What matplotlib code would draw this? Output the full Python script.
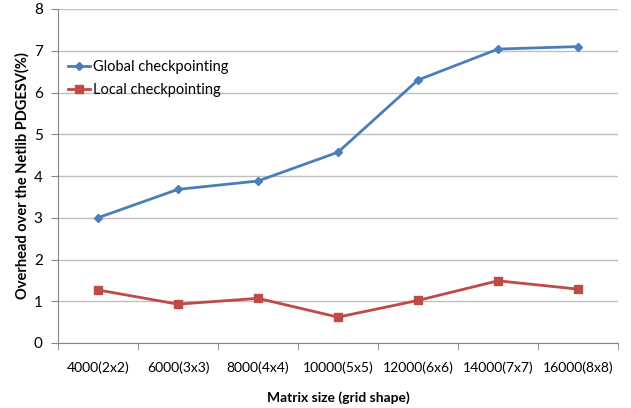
import matplotlib.pyplot as plt
import numpy as np

# chart data
categories = ['4000(2x2)', '6000(3x3)', '8000(4x4)', '10000(5x5)',
              '12000(6x6)', '14000(7x7)', '16000(8x8)']
global_ckpt = [3.00, 3.68, 3.88, 4.57, 6.30, 7.04, 7.10]
local_ckpt = [1.27, 0.93, 1.07, 0.62, 1.02, 1.49, 1.29]

plt.rcParams['font.family'] = ['Lato', 'DejaVu Sans']

fig = plt.figure(figsize=(6.31, 4.08), dpi=100)
ax = fig.add_axes([58 / 631, 65 / 408, 560 / 631, 334 / 408])

x = np.arange(len(categories))
ax.plot(x, global_ckpt, color='#4A7EBB', lw=2, marker='D', ms=4.5,
        label='Global checkpointing', zorder=3)
ax.plot(x, local_ckpt, color='#BE4B48', lw=2, marker='s', ms=6,
        label='Local checkpointing', zorder=3)

ax.set_xlim(-0.5, len(categories) - 0.5)
ax.set_ylim(0, 8)
ax.set_yticks(range(0, 9))
ax.yaxis.grid(True, color='#BFBFBF', lw=1)
ax.set_axisbelow(True)

ax.set_xticks(x)
ax.set_xticklabels(categories, fontsize=10)
ax.set_xticks(np.arange(-0.5, len(categories)), minor=True)
ax.tick_params(axis='x', which='major', length=0, pad=13)
ax.tick_params(axis='x', which='minor', length=5, color='#868686')
ax.tick_params(axis='y', length=5, color='#868686', labelsize=11, pad=6)

for side in ['top', 'right']:
    ax.spines[side].set_visible(False)
for side in ['left', 'bottom']:
    ax.spines[side].set_color('#868686')

ax.set_xlabel('Matrix size (grid shape)', fontsize=10, fontweight='bold', labelpad=13)
ax.set_ylabel('Overhead over the Netlib PDGESV(%)', fontsize=10.5, fontweight='bold', labelpad=3)

ax.legend(loc='upper left', bbox_to_anchor=(0.0, 0.877), frameon=False,
          fontsize=10.5, handlelength=1.5, handletextpad=0.2, labelspacing=0.6,
          borderaxespad=0.3)

fig.savefig('out.png', dpi=100)
